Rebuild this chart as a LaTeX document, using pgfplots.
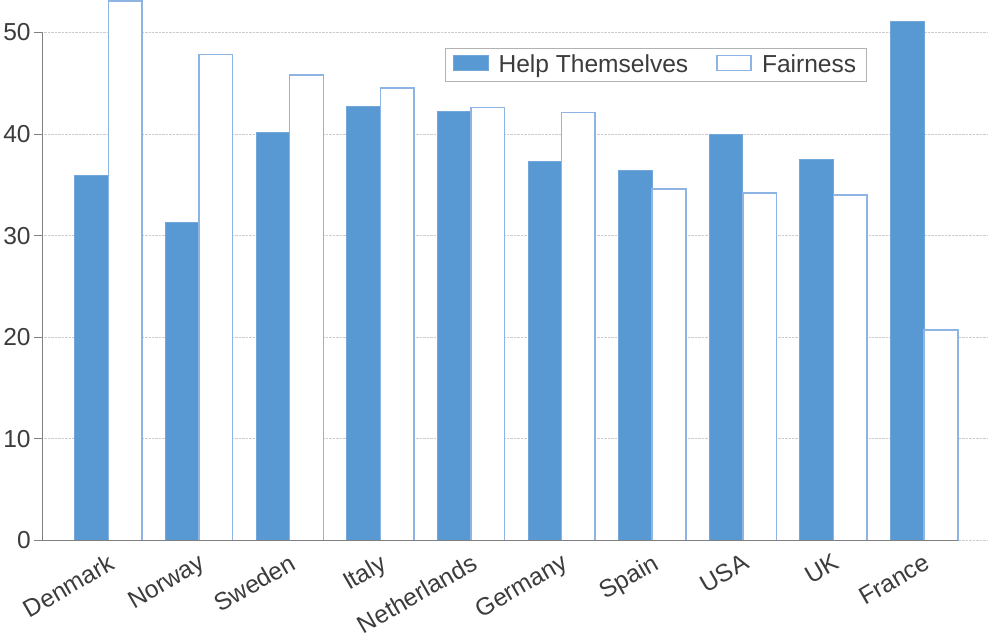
\documentclass[border=0pt]{standalone}
\usepackage{fontspec}
\setmainfont{Liberation Sans}
\usepackage{pgfplots}
\pgfplotsset{compat=1.18}
\definecolor{barblue}{RGB}{88,152,211}
\definecolor{edgeblue}{RGB}{141,180,226}
\definecolor{txt}{RGB}{60,60,60}
\begin{document}
\begin{tikzpicture}
\begin{axis}[
  scale only axis, width=943pt, height=507pt,
  xmin=-0.73, xmax=9.7, ymin=0, ymax=50,
  clip=false,
  axis y line*=left, axis x line*=bottom,
  x axis line style={draw=none},
  y axis line style={draw=gray, line width=0.8pt},
  ymajorgrids, grid style={densely dotted, gray!40, line width=0.8pt},
  ytick={0,10,...,50},
  xtick={0,...,9},
  xticklabels={Denmark,Norway,Sweden,Italy,Netherlands,Germany,Spain,USA,UK,France},
  xtick style={draw=none},
  ytick style={draw=gray, line width=0.8pt},
  tick align=outside, major tick length=8pt,
  xticklabel style={rotate=30, anchor=north east, inner sep=3pt},
  tick label style={font=\fontsize{24.5}{28}\selectfont, text=txt},
  /pgf/number format/assume math mode=true,
  ybar=0pt, bar width=33.5pt,
  legend columns=2,
  legend style={at={(0.426,0.97)}, anchor=north west, draw=gray!60, line width=1pt,
    font=\fontsize{24.5}{28}\selectfont, text=txt, inner xsep=8pt, inner ysep=5pt,
    /tikz/every odd column/.append style={column sep=8pt},
    /tikz/every even column/.append style={column sep=26pt}},
  legend image code/.code={\draw[#1] (0pt,-6pt) rectangle (34pt,9pt);},
]
\addplot[fill=barblue, draw=barblue!85!white, line width=1pt] coordinates {
 (0,35.9) (1,31.3) (2,40.1) (3,42.7) (4,42.25) (5,37.3) (6,36.4) (7,39.9) (8,37.5) (9,51.1)};
\addplot[fill=white, draw=edgeblue, line width=1.5pt] coordinates {
 (0,53.1) (1,47.8) (2,45.8) (3,44.5) (4,42.6) (5,42.1) (6,34.6) (7,34.2) (8,34.0) (9,20.7)};
\legend{Help Themselves, Fairness}
\draw[gray, line width=0.8pt] (axis cs:-0.73,0) -- (axis cs:9.37,0);
\end{axis}
\end{tikzpicture}
\end{document}
